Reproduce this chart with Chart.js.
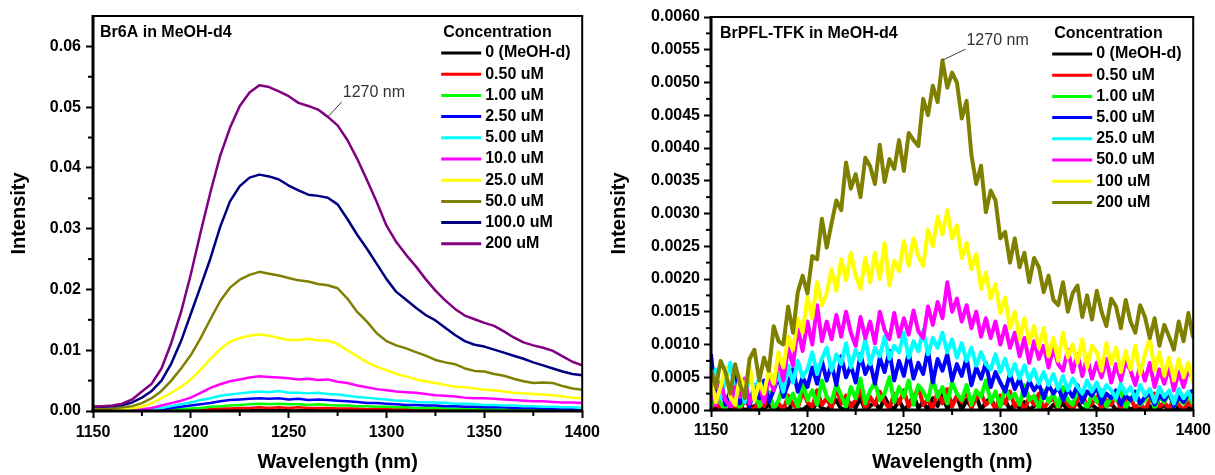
<!DOCTYPE html>
<html>
<head>
<meta charset="utf-8">
<script src="https://cdn.jsdelivr.net/npm/chart.js@4.4.1/dist/chart.umd.min.js"></script>
<style>
  html, body { margin: 0; padding: 0; background: #fff; }
  #wrap { position: relative; width: 1215px; height: 475px; }
  #leftBox { position: absolute; left: 0; top: 0; width: 605px; height: 475px; }
  #rightBox { position: absolute; left: 605px; top: 0; width: 610px; height: 475px; }
</style>
</head>
<body>
<div id="wrap">
  <div id="leftBox"><canvas id="leftCanvas" width="605" height="475"></canvas></div>
  <div id="rightBox"><canvas id="rightCanvas" width="610" height="475"></canvas></div>
</div>
<script>
// Br6A spectra, one value every 5 nm from 1150 to 1400, stored in units of 1e-4
const UNIT_LEFT = 1e-4;
const br6aWavelengths = Array.from({ length: 51 }, (_, i) => 1150 + 5 * i);
const br6aLabels = ['0 (MeOH-d)', '0.50 uM', '1.00 uM', '2.50 uM', '5.00 uM', '10.0 uM', '25.0 uM', '50.0 uM', '100.0 uM', '200 uM'];
const br6aColors = ['#000000', '#ff0000', '#00ff00', '#0000ff', '#00ffff', '#ff00ff', '#ffff00', '#808000', '#000080', '#800080'];

const br6a0   = [0,1,0,1,0, 1,1,0,1,1, 1,0,1,1,2, 1,1,2,1,2, 1,1,2,1,1, 1,2,1,1,1, 0,1,1,1,0, 1,1,0,1,1, 0,1,0,1,0, 1,0,0,1,0, 0];
const br6a050 = [0,0,0,0,0, 0,1,1,1,1, 2,2,3,4,4, 5,5,6,5,6, 5,6,5,5,5, 4,4,4,3,4, 3,3,3,2,3, 2,2,2,2,2, 2,1,1,1,1, 1,1,1,1,1, 1];
const br6a100 = [0,0,0,0,1, 1,1,2,3,3, 4,5,7,8,9, 10,11,12,11,12, 11,11,10,11,10, 9,9,8,8,7, 7,6,6,5,5, 5,4,4,4,4, 3,3,3,3,3, 2,2,2,2,2, 2];
const br6a250 = [0,1,0,1,1, 1,2,3,5,7, 9,11,13,16,18, 19,20,21,20,21, 19,20,18,19,18, 17,16,15,13,13, 12,11,10,10,9, 9,8,8,7,7, 6,6,6,5,5, 5,4,4,4,3, 3];
const br6a500 = [1,0,1,1,1, 2,3,5,8,11, 14,18,21,25,27, 29,31,32,31,33, 30,30,29,30,28, 27,25,23,22,20, 19,17,17,15,14, 14,13,12,12,11, 10,10,9,9,8, 8,7,7,6,6, 5];
const br6a10  = [1,1,1,1,2, 3,5,9,13,17, 22,30,38,44,49, 52,55,57,56,55, 54,52,53,51,52, 48,46,42,39,36, 34,32,31,30,28, 26,25,24,22,21, 21,20,19,18,17, 16,16,15,14,14, 13];
const br6a25  = [2,2,2,3,4, 7,13,21,30,40, 52,68,86,102,114, 120,124,126,124,120, 117,117,119,116,116, 110,100,90,80,73, 67,61,57,52,49, 46,43,40,39,37, 35,34,32,30,29, 28,27,26,24,22, 21];
const br6a50  = [3,3,4,6,8, 13,21,33,50,70, 92,120,151,181,203, 216,224,229,226,223, 219,215,213,209,207, 202,185,163,147,128, 115,108,103,97,91, 84,80,77,70,66, 65,61,58,53,49, 46,47,46,41,37, 35];
const br6a1000 = [7,7,8,10,14, 22,33,50,78,115, 160,205,251,303,345, 370,384,389,386,381, 371,363,356,354,351, 340,316,290,267,242, 217,196,183,170,158, 149,137,125,115,109, 106,101,96,91,86, 80,75,70,65,61, 59];
const br6a200 = [7,8,9,12,19, 32,45,70,112,163, 225,294,360,420,466, 502,524,536,533,526, 518,507,502,496,484, 470,446,415,380,344, 305,278,257,238,217, 198,182,168,157,151, 145,140,131,121,113, 108,104,99,90,81, 75];

// BrPFL-TFK spectra, one value every 2.5 nm from 1150 to 1400, stored in units of 1e-5
const UNIT_RIGHT = 1e-5;
const brpflWavelengths = Array.from({ length: 101 }, (_, i) => 1150 + 2.5 * i);
const brpflLabels = ['0 (MeOH-d)', '0.50 uM', '1.00 uM', '5.00 uM', '25.0 uM', '50.0 uM', '100 uM', '200 uM'];
const brpflColors = ['#000000', '#ff0000', '#00ff00', '#0000ff', '#00ffff', '#ff00ff', '#ffff00', '#808000'];

const brpfl0 = [0,3,0,5,1,0,4,0,2,6, 0,3,8,0,2,5,0,10,2,0, 6,0,12,3,0,8,15,2,0,10, 4,18,0,6,12,0,20,5,2,15,
  0,8,22,3,12,0,18,6,25,2, 10,20,0,15,5,22,0,12,18,3, 8,15,0,10,4,12,0,6,14,2, 0,8,3,10,0,5,12,0,4,8,
  2,0,6,10,0,3,8,0,5,2, 0,6,0,3,8,0,2,5,0,3, 0];
const brpfl050 = [2,12,0,8,20,3,0,15,5,0, 18,6,25,2,10,0,22,8,3,28, 12,5,30,8,18,2,35,10,22,5, 15,32,0,20,8,28,12,2,25,10,
  30,5,18,35,8,15,2,28,10,32, 5,22,12,30,3,18,25,8,15,2, 22,10,28,5,15,0,20,8,25,3, 12,18,2,22,8,0,15,25,5,10,
  20,2,15,8,22,0,12,18,3,10, 0,15,25,5,12,2,18,8,0,12, 5];
const brpfl100 = [5,25,10,0,30,12,3,20,8,35, 5,18,28,2,15,38,10,25,5,42, 15,30,8,45,20,12,40,22,5,35, 18,48,10,30,42,15,25,50,12,35,
  20,45,8,38,28,15,48,20,35,10, 42,25,15,38,8,30,20,45,12,28, 5,35,18,25,8,38,15,22,3,30, 12,25,5,35,15,8,28,18,2,25,
  12,30,5,20,15,32,3,18,25,8, 15,28,2,20,12,25,5,18,10,22, 8];
const brpfl500 = [85,15,40,8,30,55,10,25,5,38, 18,45,12,30,52,20,40,62,28,50, 35,65,40,75,45,70,38,82,50,68, 42,85,55,72,40,80,58,90,45,75,
  52,88,48,72,55,92,42,78,60,85, 45,70,52,80,38,65,48,72,35,58, 42,28,55,32,48,22,45,30,40,18, 38,25,35,15,32,20,38,12,28,22,
  35,10,25,18,30,8,22,15,28,10, 20,25,8,22,15,28,5,20,12,25, 30];
const brpfl25 = [35,62,18,45,72,25,40,12,55,30, 48,20,62,35,55,28,68,42,75,50, 62,88,55,78,95,60,85,70,102,65, 92,75,108,70,95,82,112,78,98,88,
  118,80,105,90,122,85,110,95,118,88, 108,80,102,75,95,68,88,70,62,85, 58,78,52,70,48,68,45,62,40,58, 38,55,32,52,30,48,35,25,45,28,
  42,22,38,30,18,40,25,35,15,38, 22,32,12,35,20,30,10,32,18,28, 12];
const brpfl50 = [30,8,42,15,5,35,20,48,10,28, 40,12,50,30,78,45,95,68,125,90, 135,100,160,105,135,108,145,112,150,118, 98,142,110,135,102,150,122,108,148,112,
  140,115,152,120,110,158,130,165,140,195, 150,170,135,160,125,150,112,140,110,135, 100,128,95,118,82,110,72,105,78,98, 65,95,70,60,92,58,85,52,80,48,
  72,50,78,42,70,45,75,60,38,68, 45,72,35,62,40,65,30,58,35,62, 45];
const brpfl1000 = [48,12,35,65,20,8,52,30,70,15, 42,25,62,40,88,65,112,92,140,118, 172,140,195,160,178,215,182,230,198,240, 205,185,232,195,240,200,255,190,228,212,
  258,220,262,235,220,275,250,295,268,305, 262,282,232,255,215,238,185,210,170,192, 148,172,125,150,108,140,102,128,95,125, 82,110,75,118,80,100,72,108,65,98,
  88,60,102,70,95,58,90,62,98,55, 85,110,60,88,52,80,45,78,50,72, 40];
const brpfl200 = [62,35,75,58,25,70,40,18,78,92, 45,80,60,128,105,100,158,118,180,205, 178,235,230,292,248,285,320,305,378,338, 360,325,385,372,345,405,348,383,368,412,
  365,423,412,403,475,450,495,470,534,492, 515,500,445,472,390,345,373,302,335,320, 262,272,225,262,218,240,195,232,218,180, 205,168,160,195,150,178,190,142,175,138,
  182,150,128,170,158,125,168,135,118,160, 142,110,140,98,130,112,92,135,105,148, 110];

const FONT = 'Arial, "Liberation Sans", sans-serif';
Chart.defaults.font.family = FONT;

// frame, minor ticks, inner title, legend and the "1270 nm" note
const panelDecor = {
  id: 'panelDecor',
  afterDatasetsDraw(chart, args, o) {
    const { ctx, chartArea: a, scales: { x, y } } = chart;
    const seg = (x1, y1, x2, y2, w) => {
      ctx.lineWidth = w;
      ctx.beginPath(); ctx.moveTo(x1, y1); ctx.lineTo(x2, y2); ctx.stroke();
    };
    ctx.save();
    ctx.strokeStyle = '#000';
    seg(a.left, a.top, a.right + 1, a.top, 2);
    seg(a.right, a.top, a.right, a.bottom, 2);
    seg(a.left, a.top - 1, a.left, a.bottom + 1.5, 3);
    seg(a.left - 1.5, a.bottom, a.right + 1, a.bottom, 3);
    const mids = ticks => ticks.slice(1).map((t, i) => (t.value + ticks[i].value) / 2);
    mids(x.ticks).forEach(v => { const px = x.getPixelForValue(v); seg(px, a.bottom, px, a.bottom + 5, 2); });
    mids(y.ticks).forEach(v => { const py = y.getPixelForValue(v); seg(a.left - 5, py, a.left, py, 2); });
    ctx.restore();
  },
  afterDraw(chart, args, o) {
    const { ctx, chartArea: a, scales: { x, y } } = chart;
    ctx.save();
    ctx.textBaseline = 'middle';
    ctx.textAlign = 'left';
    ctx.font = `bold 16px ${FONT}`;
    ctx.fillStyle = '#000';
    ctx.fillText(o.title, a.left + o.titleDx, a.top + 17);

    const lx = a.right - 141;
    ctx.fillText('Concentration', lx + 2, a.top + 17);
    o.labels.forEach((lab, i) => {
      const ly = a.top + 37 + i * 21.2;
      ctx.strokeStyle = o.colors[i];
      ctx.lineWidth = 3;
      ctx.beginPath(); ctx.moveTo(lx, ly); ctx.lineTo(lx + 40, ly); ctx.stroke();
      ctx.fillStyle = '#000';
      ctx.fillText(lab, lx + 44, ly);
    });

    const n = o.note;
    const px = x.getPixelForValue(n.x), py = y.getPixelForValue(n.y);
    ctx.strokeStyle = '#404040';
    ctx.lineWidth = 1;
    ctx.beginPath(); ctx.moveTo(px, py); ctx.lineTo(px + n.dx, py + n.dy); ctx.stroke();
    ctx.font = `16px ${FONT}`;
    ctx.fillStyle = '#333';
    ctx.fillText(n.text, px + n.tx, py + n.ty);
    ctx.restore();
  }
};

function makePanel(canvasId, p) {
  const datasets = p.series.map((vals, i) => ({
    label: p.labels[i],
    data: vals.map((v, j) => ({ x: p.wavelengths[j], y: v * p.unit })),
    borderColor: p.colors[i],
    borderWidth: p.lineWidth,
    borderJoinStyle: 'round',
    pointRadius: 0,
    order: p.series.length - i
  }));
  const tickFont = { size: 16, weight: 'bold' };
  const titleFont = { size: 20, weight: 'bold' };
  const majorGrid = { drawOnChartArea: false, drawTicks: true, tickLength: 7, tickWidth: 2, tickColor: '#000', color: '#000' };

  return new Chart(document.getElementById(canvasId), {
    type: 'line',
    data: { datasets },
    options: {
      responsive: false,
      animation: false,
      layout: { padding: p.padding },
      plugins: { legend: { display: false }, tooltip: { enabled: false }, panelDecor: p.decor },
      scales: {
        x: {
          type: 'linear', min: 1150, max: 1400,
          ticks: { stepSize: 50, font: tickFont, color: '#000', padding: p.xTickPad, maxRotation: 0, callback: v => String(v) },
          grid: majorGrid,
          border: { display: false },
          title: { display: true, text: 'Wavelength (nm)', font: titleFont, color: '#000', padding: { top: 0, bottom: 1 } },
          afterFit: s => { s.height = p.xHeight; }
        },
        y: {
          type: 'linear', min: 0, max: p.yMax,
          ticks: { stepSize: p.yStep, includeBounds: p.includeBounds, font: tickFont, color: '#000', padding: p.yTickPad, callback: v => v.toFixed(p.yDecimals) },
          grid: majorGrid,
          border: { display: false },
          title: { display: true, text: 'Intensity', font: titleFont, color: '#000', padding: { top: p.yTitlePad, bottom: 0 } },
          afterFit: s => { s.width = p.yWidth; }
        }
      }
    },
    plugins: [panelDecor]
  });
}

document.addEventListener('DOMContentLoaded', () => {
  const br6aSeries = [br6a0, br6a050, br6a100, br6a250, br6a500, br6a10, br6a25, br6a50, br6a1000, br6a200];
  makePanel('leftCanvas', {
    series: br6aSeries, labels: br6aLabels, colors: br6aColors,
    wavelengths: br6aWavelengths, unit: UNIT_LEFT, lineWidth: 2.5,
    yMax: 0.065, yStep: 0.01, yDecimals: 2, includeBounds: false,
    padding: { top: 16, right: 22, left: 0, bottom: 0 },
    yWidth: 93, xHeight: 64, yTitlePad: 7.5, yTickPad: 5, xTickPad: 5,
    decor: {
      title: 'Br6A in MeOH-d4', titleDx: 7, labels: br6aLabels, colors: br6aColors,
      note: { text: '1270 nm', x: 1270, y: br6a200[br6aWavelengths.indexOf(1270)] * UNIT_LEFT, dx: 14, dy: -15, tx: 15, ty: -24 }
    }
  });

  const brpflSeries = [brpfl0, brpfl050, brpfl100, brpfl500, brpfl25, brpfl50, brpfl1000, brpfl200];
  makePanel('rightCanvas', {
    series: brpflSeries, labels: brpflLabels, colors: brpflColors,
    wavelengths: brpflWavelengths, unit: UNIT_RIGHT, lineWidth: 4,
    yMax: 0.006, yStep: 0.0005, yDecimals: 4, includeBounds: true,
    padding: { top: 17, right: 19, left: 0, bottom: 0 },
    yWidth: 106, xHeight: 65, yTitlePad: 2.5, yTickPad: 4, xTickPad: 4,
    decor: {
      title: 'BrPFL-TFK in MeOH-d4', titleDx: 9, labels: brpflLabels, colors: brpflColors,
      note: { text: '1270 nm', x: 1270, y: brpfl200[brpflWavelengths.indexOf(1270)] * UNIT_RIGHT, dx: 23, dy: -11, tx: 24, ty: -20 }
    }
  });
});
</script>
</body>
</html>
